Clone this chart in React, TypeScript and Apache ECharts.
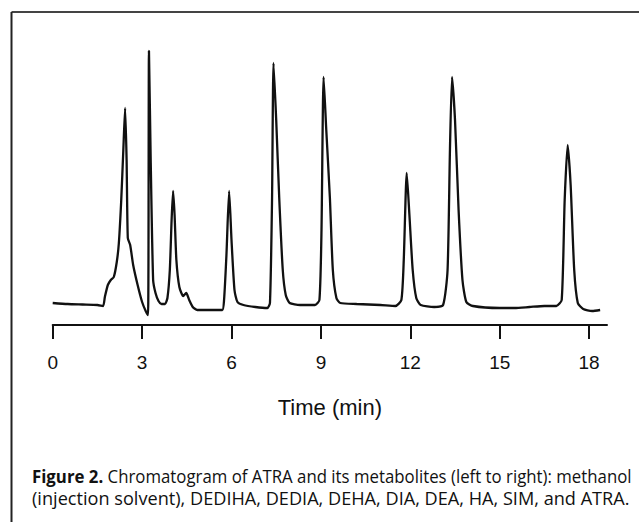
import React, { useEffect, useRef } from "react";
import * as echarts from "echarts";

// Retention time (min) and detector signal (arbitrary units)
const times: number[] = [
  0, 0.5, 1.0, 1.5, 1.69,
  1.75, 1.85, 1.95, 2.05, 2.15, 2.22, 2.3, 2.37, 2.43, 2.48, 2.52, 2.6, 2.7, 2.85, 3.0, 3.12, 3.2,
  3.23, 3.29, 3.37, 3.45, 3.55, 3.65, 3.77,
  3.85, 3.93, 3.99, 4.04, 4.09, 4.15, 4.25, 4.38, 4.48, 4.58, 4.7, 4.85, 5.3, 5.69,
  5.75, 5.83, 5.92, 6.0, 6.1, 6.2, 6.4, 6.8, 7.2,
  7.29, 7.36, 7.41, 7.5, 7.6, 7.72, 7.82, 7.95, 8.3, 8.8, 8.95,
  9.02, 9.09, 9.18, 9.3, 9.4, 9.52, 9.65, 10.2, 11.0, 11.5, 11.7,
  11.78, 11.88, 11.97, 12.08, 12.2, 12.35, 12.8, 13.1,
  13.25, 13.33, 13.4, 13.5, 13.62, 13.75, 13.88, 14.1, 15.0, 15.5, 16.0, 16.5, 16.9,
  17.08, 17.18, 17.28, 17.38, 17.5, 17.62, 17.8, 18.1, 18.37,
];
const signal: number[] = [
  22, 21, 20.5, 20, 19,
  28, 40, 45, 48, 63, 82, 125, 175, 217, 165, 87, 80, 60, 40, 23, 14, 10,
  274, 162, 45, 32, 24, 21, 21,
  27, 55, 105, 134, 110, 65, 38, 29, 32, 25, 18, 15, 15, 15,
  25, 70, 134, 85, 35, 23, 20, 18, 17,
  22, 125, 262, 205, 128, 55, 30, 22, 20, 20, 25,
  95, 248, 195, 128, 55, 27, 22, 21, 20, 19, 25,
  65, 152, 110, 55, 27, 20, 18, 20,
  55, 175, 248, 205, 115, 45, 23, 19, 17, 17, 18, 19, 19,
  25, 125, 180, 140, 55, 22, 16, 14, 15,
];
const tickStep = 3;
const xMax = 18.6;
const axisTitle = "Time (min)";
const captionBold = "Figure 2.";
const captionRest1 = " Chromatogram of ATRA and its metabolites (left to right): methanol";
const captionLine2 = "(injection solvent), DEDIHA, DEDIA, DEHA, DIA, DEA, HA, SIM, and ATRA.";

const CAP_FONT = "'Open Sans', 'Noto Sans', sans-serif";
const CAP_SIZE = 18;

function measure(text: string, weight: string): number {
  const c = document.createElement("canvas").getContext("2d");
  if (!c) return text.length * 8;
  c.font = `${weight} ${CAP_SIZE}px ${CAP_FONT}`;
  return c.measureText(text).width;
}

export default function App() {
  const ref = useRef<HTMLDivElement>(null);
  useEffect(() => {
    if (!ref.current) return;
    const chart = echarts.init(ref.current, undefined, { renderer: "svg" });
    const data = times.map((t, i) => [t, signal[i]]);
    const w1 = measure(captionBold, "bold") + measure(captionRest1, "normal");
    const w2 = measure(captionLine2, "normal");
    const sx1 = 600 / w1;
    const sx2 = 598 / w2;
    chart.setOption({
      animation: false,
      backgroundColor: "#ffffff",
      grid: { left: 52.7, top: 25, width: 554.3, height: 300, containLabel: false },
      xAxis: {
        type: "value",
        min: 0,
        max: xMax,
        interval: tickStep,
        name: axisTitle,
        nameLocation: "middle",
        nameGap: 71,
        nameTextStyle: { fontFamily: "Liberation Sans, Arial, sans-serif", fontSize: 22, color: "#111" },
        axisLine: { show: true, lineStyle: { color: "#111", width: 2 } },
        axisTick: { show: true, inside: false, length: 14, lineStyle: { color: "#111", width: 2 } },
        axisLabel: {
          margin: 28,
          fontFamily: "Liberation Sans, Arial, sans-serif",
          fontSize: 19,
          color: "#111",
          showMaxLabel: false,
          formatter: (v: number) => (v % tickStep === 0 ? String(v) : ""),
        },
        splitLine: { show: false },
      },
      yAxis: {
        type: "value",
        min: 0,
        max: 300,
        show: false,
        splitLine: { show: false },
      },
      series: [
        {
          type: "line",
          data,
          showSymbol: false,
          smooth: 0.2,
          lineStyle: { color: "#111", width: 2.3 },
          z: 3,
        },
      ],
      graphic: [
        {
          type: "line",
          shape: { x1: 11.5, y1: 12, x2: 639, y2: 12 },
          style: { stroke: "#444", lineWidth: 2 },
        },
        {
          type: "line",
          shape: { x1: 11.5, y1: 12, x2: 11.5, y2: 522 },
          style: { stroke: "#222", lineWidth: 2 },
        },
        {
          type: "text",
          x: 32,
          y: 476,
          scaleX: sx1,
          style: {
            text: "{b|" + captionBold + "}" + captionRest1,
            fontFamily: CAP_FONT,
            fontSize: CAP_SIZE,
            fill: "#111",
            verticalAlign: "middle",
            rich: {
              b: {
                fontFamily: CAP_FONT,
                fontWeight: "bold",
                fontSize: CAP_SIZE,
                fill: "#111",
              },
            },
          },
        },
        {
          type: "text",
          x: 32,
          y: 498,
          scaleX: sx2,
          style: {
            text: captionLine2,
            fontFamily: CAP_FONT,
            fontSize: CAP_SIZE,
            fill: "#111",
            verticalAlign: "middle",
          },
        },
      ],
    });
    return () => chart.dispose();
  }, []);
  return (
    <div
      ref={ref}
      style={{ position: "fixed", left: 0, top: 0, width: 639, height: 522, background: "#fff" }}
    />
  );
}
